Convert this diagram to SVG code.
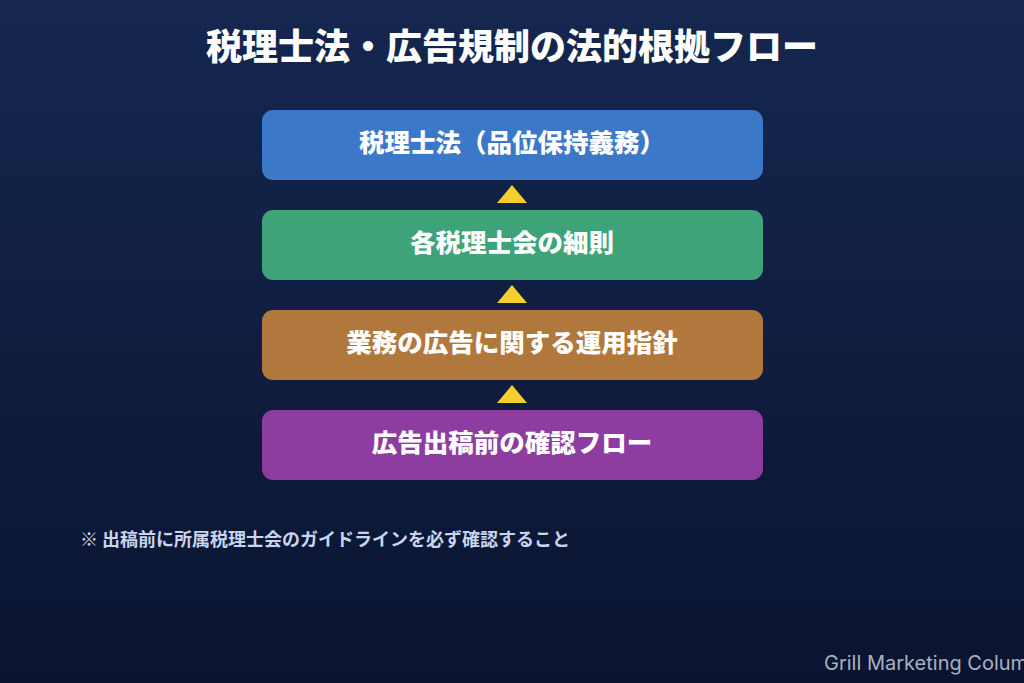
<svg xmlns="http://www.w3.org/2000/svg" width="1024" height="683" viewBox="0 0 1024 683">
  <defs>
    <linearGradient id="bg" x1="0" y1="0" x2="0" y2="1">
      <stop offset="0" stop-color="#15274f"/>
      <stop offset="1" stop-color="#0a1430"/>
    </linearGradient>
  </defs>
  <style>
    .box-text { font-family: "Noto Sans CJK JP", "Noto Sans", sans-serif; font-weight: 900; font-size: 25.5px; fill: #ffffff; text-anchor: middle; }
    .title { font-family: "Noto Sans CJK JP", "Noto Sans", sans-serif; font-weight: 900; font-size: 36px; fill: #ffffff; text-anchor: middle; }
    .note { font-family: "Noto Sans CJK JP", "Noto Sans", sans-serif; font-weight: 700; font-size: 18px; fill: #c9d5ef; }
    .footer { font-family: "Inter", "Liberation Sans", sans-serif; font-size: 20px; fill: #a9b0c0; }
    .arrow { fill: #f6cf2f; }
  </style>
  <rect x="0" y="0" width="1024" height="683" fill="url(#bg)"/>
  <text class="title" x="512" y="60">税理士法・広告規制の法的根拠フロー</text>

  <g id="node1">
    <rect x="262" y="110" width="501" height="70" rx="11" fill="#3c78c8"/>
    <text class="box-text" x="512" y="152">税理士法（品位保持義務）</text>
  </g>
  <g id="node2">
    <rect x="262" y="210" width="501" height="70" rx="11" fill="#3ea379"/>
    <text class="box-text" x="512" y="252">各税理士会の細則</text>
  </g>
  <g id="node3">
    <rect x="262" y="310" width="501" height="70" rx="11" fill="#b1783d"/>
    <text class="box-text" x="512" y="352">業務の広告に関する運用指針</text>
  </g>
  <g id="node4">
    <rect x="262" y="410" width="501" height="70" rx="11" fill="#8d3da0"/>
    <text class="box-text" x="512" y="452">広告出稿前の確認フロー</text>
  </g>

  <g id="connectors">
    <polygon class="arrow" points="512,185 527,203 497,203"/>
    <polygon class="arrow" points="512,285 527,303 497,303"/>
    <polygon class="arrow" points="512,385 527,403 497,403"/>
  </g>

  <text class="note" x="80" y="546">※ 出稿前に所属税理士会のガイドラインを必ず確認すること</text>
  <text class="footer" x="824" y="670">Grill Marketing Column</text>
</svg>
